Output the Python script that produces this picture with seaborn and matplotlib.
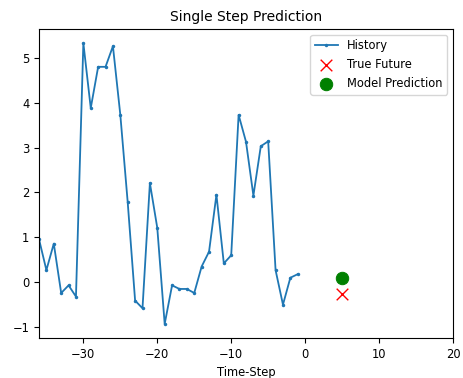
import matplotlib
matplotlib.use("Agg")
import matplotlib.pyplot as plt
import seaborn as sns
import numpy as np
import pandas as pd

time_steps = list(range(-36, 0))
history = [0.96, 0.27, 0.86, -0.24, -0.07, -0.32, 5.33, 3.88, 4.80, 4.80,
           5.26, 3.73, 1.78, -0.41, -0.58, 2.21, 1.21, -0.93, -0.07, -0.15,
           -0.15, -0.24, 0.35, 0.68, 1.95, 0.42, 0.60, 3.73, 3.13, 1.93,
           3.03, 3.14, 0.27, -0.50, 0.10, 0.18]
future_step = [5]
true_future = [-0.27]
model_prediction = [0.09]

plt.rcParams['font.family'] = ['DejaVu Sans']
plt.rcParams['font.size'] = 8.3

fig = plt.figure(figsize=(4.63, 3.78), dpi=100)
ax = fig.add_axes([39/463, 1-338/378, (453-39)/463, (338-29)/378])

df = pd.DataFrame({"t": time_steps, "v": history})
sns.lineplot(data=df, x="t", y="v", ax=ax, marker='.', markersize=5,
             markeredgewidth=0, color='#1f77b4', label='History', linewidth=1.3)
sns.scatterplot(x=future_step, y=true_future, ax=ax, marker='x', s=70,
                color='red', linewidth=1.0, label='True Future')
sns.scatterplot(x=future_step, y=model_prediction, ax=ax, marker='o', s=80,
                color='green', edgecolor='green', label='Model Prediction')

ax.set_xlim(-36, 20)
ax.set_title('Single Step Prediction', fontsize=10)
ax.set_xlabel('Time-Step', fontsize=8.3)
ax.set_ylabel('')
ax.tick_params(labelsize=8.3)
ax.legend(loc='upper right', fontsize=8.3)

fig.savefig('out.png', dpi=100)
